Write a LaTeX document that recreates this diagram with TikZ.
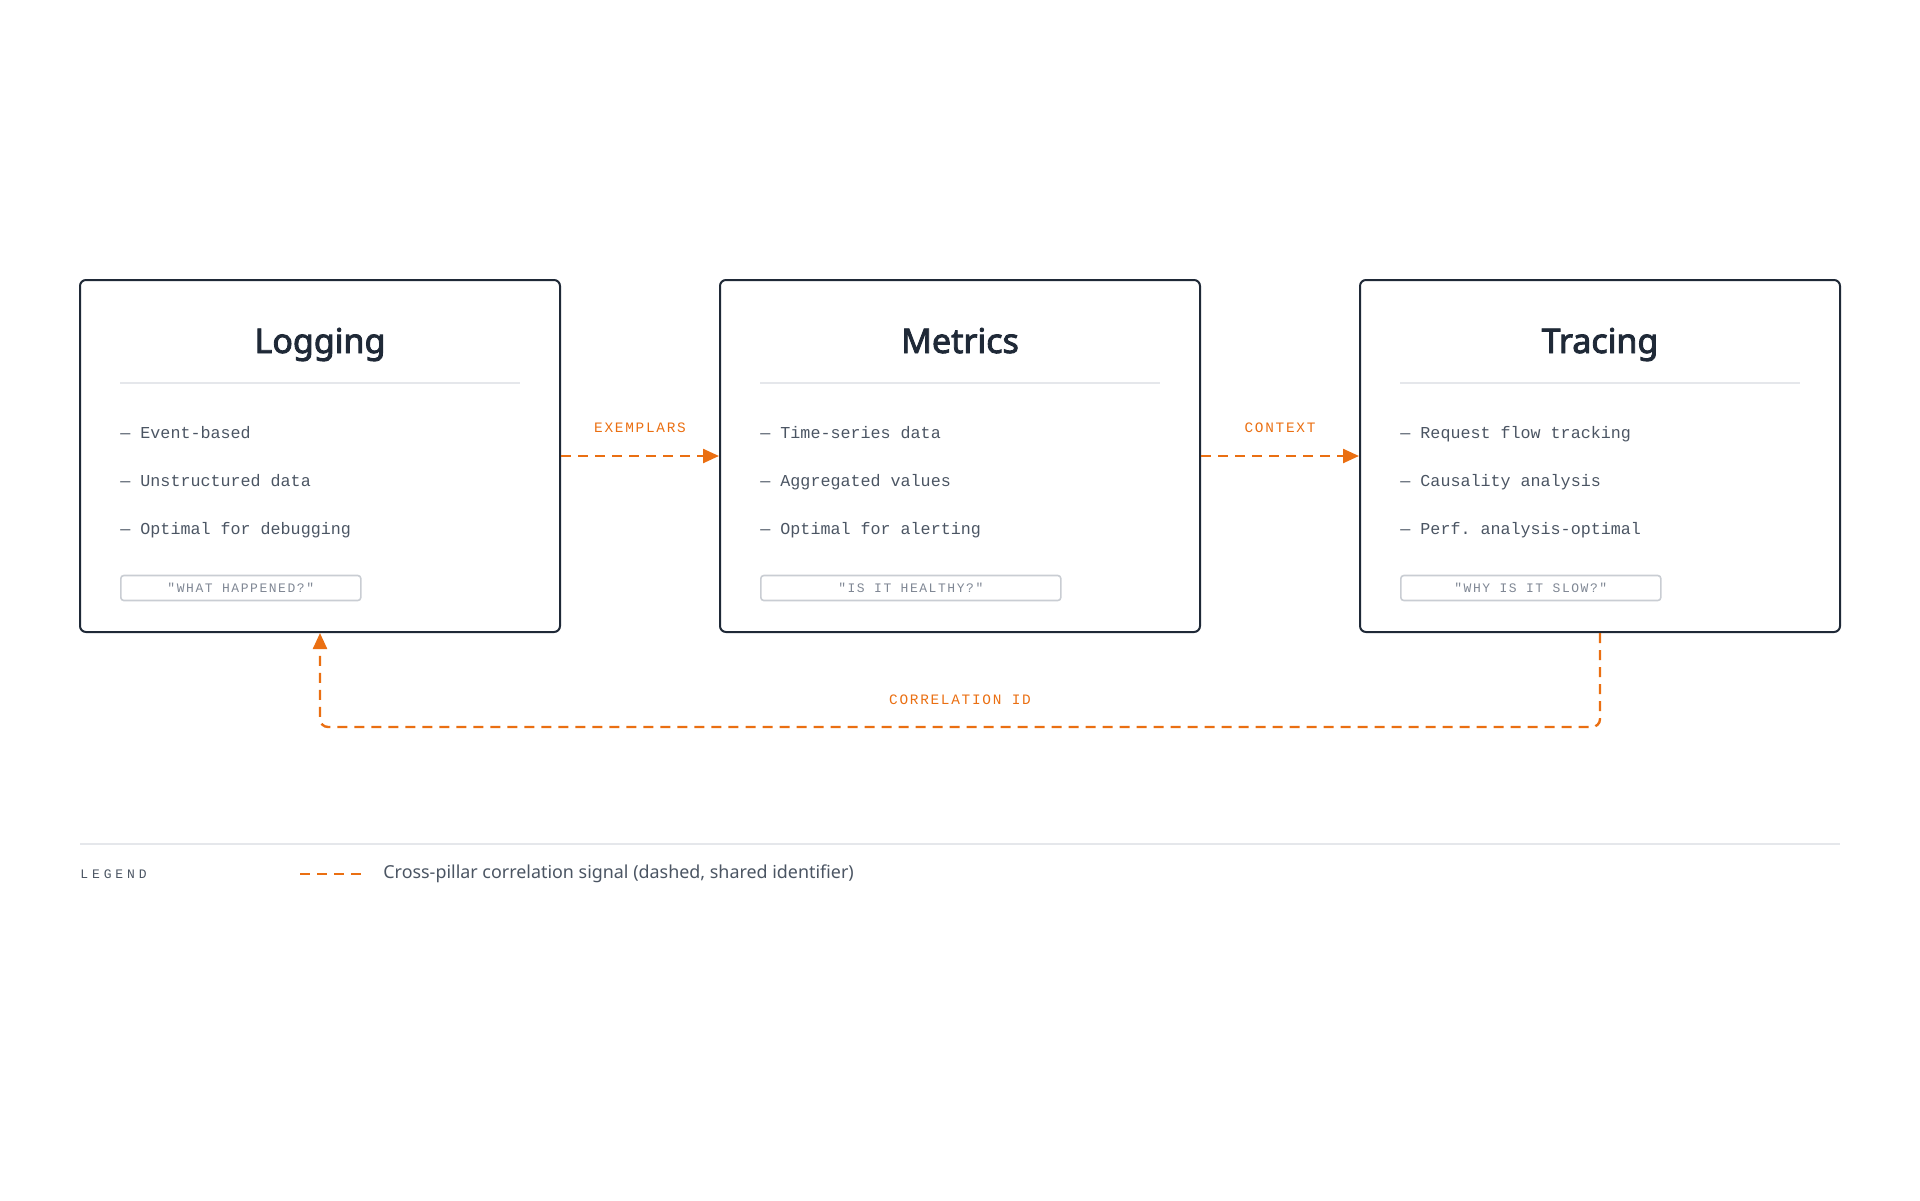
\documentclass[tikz,border=0pt]{standalone}
\usepackage{fontspec}
\setmainfont{Noto Sans}
\setmonofont{Liberation Mono}
\newfontfamily\titlefont[FakeBold=2.6]{Noto Sans}
\newfontfamily\siglabelfont[LetterSpace=12]{Liberation Mono}
\newfontfamily\tagfont[LetterSpace=12]{Liberation Mono}
\newfontfamily\legendfont[LetterSpace=30]{Liberation Mono}
\usetikzlibrary{arrows.meta}
\definecolor{ink}{HTML}{1F2937}
\definecolor{body}{HTML}{4B5563}
\definecolor{rulegray}{HTML}{E5E7EB}
\definecolor{tagline}{HTML}{C9CDD3}
\definecolor{tagtext}{HTML}{7F8794}
\definecolor{signal}{HTML}{EA6F12}
\tikzset{
	pillar/.style={rectangle,draw=ink,line width=1pt,rounded corners=3pt,minimum width=240pt,minimum height=176pt},
	pillartitle/.style={anchor=base,font=\titlefont\fontsize{17}{21}\selectfont,text=ink},
	item/.style={anchor=base west,inner sep=0pt,font=\ttfamily\fontsize{8.35}{10}\selectfont,text=body},
	tag/.style={rectangle,draw=tagline,line width=0.8pt,rounded corners=1.5pt,anchor=west,minimum height=12.5pt,inner sep=0pt,font=\tagfont\fontsize{6.5}{7}\selectfont,text=tagtext},
	sigline/.style={draw=signal,line width=1.2pt,dash pattern=on 5pt off 3.5pt},
	sigarrow/.style={sigline,-{Triangle[length=8pt,width=7pt]}},
	siglabel/.style={font=\siglabelfont\fontsize{7.2}{8}\selectfont,text=signal},
	separator/.style={draw=rulegray,line width=1pt},
}
% #1 name, #2 x centre, #3 title, #4-#6 items, #7 tag, #8 tag width
\def\pillar#1#2#3#4#5#6#7#8{
	\path (#2,456) node(#1) [pillar] {}
			(#2,353) node(#1Title) [pillartitle] {#3}
			(#2-200,438) node(#1One) [item] {— #4}
			(#2-200,486) node(#1Two) [item] {— #5}
			(#2-200,534) node(#1Three) [item] {— #6}
			(#2-200,588) node(#1Tag) [tag,minimum width=#8] {"#7"};
	\draw[separator] (#2-200,383) -- (#2+200,383);
}

\begin{document}
\begin{tikzpicture}[x=0.5pt,y=-0.5pt]
\useasboundingbox (0,0) rectangle (1920,1200);
\pillar{Logging}{320}{Logging}{Event-based}{Unstructured data}{Optimal for debugging}{WHAT HAPPENED?}{120pt}
\pillar{Metrics}{960}{Metrics}{Time-series data}{Aggregated values}{Optimal for alerting}{IS IT HEALTHY?}{150pt}
\pillar{Tracing}{1600}{Tracing}{Request flow tracking}{Causality analysis}{Perf. analysis-optimal}{WHY IS IT SLOW?}{130pt}
\draw[sigarrow] (Logging.east) -- (Metrics.west);
\draw[sigarrow] (Metrics.east) -- (Tracing.west);
\path (640,428) node(Exemplars) [siglabel] {EXEMPLARS}
		(1280,428) node(Context) [siglabel] {CONTEXT}
		(960,700) node(CorrelationId) [siglabel] {CORRELATION ID};
\coordinate (CorrRight) at (1600,727);
\coordinate (CorrLeft) at (320,727);
\draw[sigarrow,rounded corners=4pt] (Tracing.south) -- (CorrRight) -- (CorrLeft) -- (Logging.south);
% legend
\draw[separator] (80,844) -- (1840,844);
\path (80,874) node(Legend) [anchor=west,inner sep=0pt,font=\legendfont\fontsize{6.5}{8}\selectfont,text=body] {LEGEND}
		(383,874) node(LegendText) [anchor=west,inner sep=0pt,font=\fontsize{8.95}{10}\selectfont,text=body] {Cross-pillar correlation signal (dashed, shared identifier)};
\coordinate (SwatchA) at (300,874);
\coordinate (SwatchB) at (365,874);
\draw[sigline] (SwatchA) -- (SwatchB);
\end{tikzpicture}
\end{document}
